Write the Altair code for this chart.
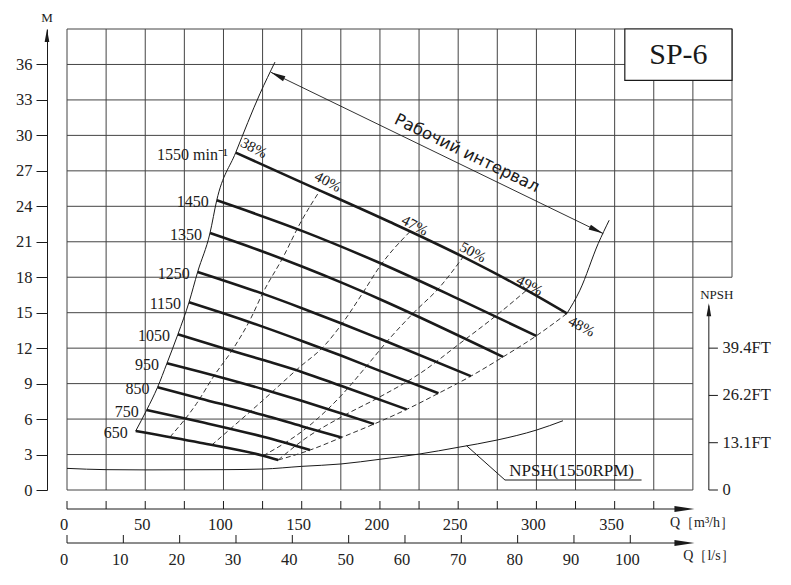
import altair as alt
import pandas as pd

# ---------------- data ----------------
speeds = [650, 750, 850, 950, 1050, 1150, 1250, 1350, 1450, 1550]
speed_text = ["650", "750", "850", "950", "1050", "1150", "1250", "1350", "1450", "1550 min⁻¹"]

q650 = [43.9, 85.0, 125.4, 135.0]
h650 = [4.99, 4.00, 2.90, 2.54]
q750 = [50.9, 85.0, 125.4, 155.3]
h750 = [6.76, 5.77, 4.50, 3.38]
q850 = [57.9, 85.0, 125.4, 150.4, 175.5]
h850 = [8.70, 7.75, 6.34, 5.38, 4.45]
q950 = [63.9, 85.0, 125.4, 150.4, 175.5, 196.2]
h950 = [10.73, 10.01, 8.53, 7.53, 6.47, 5.58]
q1050 = [70.9, 99.9, 125.4, 150.4, 175.5, 217.1]
h1050 = [13.18, 12.00, 10.99, 9.97, 8.79, 6.82]
q1150 = [78.0, 99.9, 125.4, 151.0, 175.5, 200.0, 237.4]
h1150 = [15.89, 14.95, 13.80, 12.57, 11.35, 10.08, 8.18]
q1250 = [83.5, 125.4, 151.0, 175.5, 200.0, 258.1]
h1250 = [18.45, 16.59, 15.34, 14.09, 12.79, 9.63]
q1350 = [91.4, 125.4, 151.0, 175.5, 200.0, 278.7]
h1350 = [21.74, 20.16, 18.86, 17.54, 16.14, 11.26]
q1450 = [95.7, 151.0, 200.0, 250.0, 299.9]
h1450 = [24.51, 21.88, 19.20, 16.17, 13.04]
q1550 = [107.8, 148.9, 206.4, 253.2, 293.7, 319.5]
h1550 = [28.54, 26.09, 22.67, 19.72, 16.90, 14.93]

# iso-efficiency (dashed) curves
e40_q = [65.8, 82.9, 93.5, 106.3, 116.9, 125.4, 138.2, 148.9, 161.7]
e40_h = [4.48, 7.33, 9.57, 11.97, 14.37, 16.73, 19.72, 22.54, 25.35]
e47_q = [92.5, 125.4, 148.9, 163.8, 176.5, 189.3, 200.0, 219.2]
e47_h = [3.80, 7.61, 10.42, 12.11, 14.20, 16.73, 18.93, 21.86]
e50_q = [125.4, 155.3, 176.5, 189.3, 206.4, 221.3, 238.3, 253.2]
e50_h = [2.90, 5.49, 8.17, 10.14, 12.85, 14.96, 17.18, 19.72]
e49_q = [135.0, 151.0, 175.5, 200.0, 225.6, 251.1, 274.6, 293.7]
e49_h = [2.54, 4.23, 6.19, 7.88, 9.86, 12.40, 14.79, 16.90]
e48_q = [135.0, 155.3, 175.5, 196.2, 217.1, 237.4, 258.1, 278.7, 299.9, 319.5]
e48_h = [2.54, 3.38, 4.45, 5.58, 6.82, 8.18, 9.63, 11.26, 13.04, 14.93]

eff_text = ["38%", "40%", "47%", "50%", "49%", "48%"]
eff_lab_q = [119.5, 166.8, 222.4, 259.4, 295.8, 328.9]
eff_lab_h = [28.95, 26.1, 22.39, 20.14, 17.32, 13.86]

# thin boundary lines of the working range
left_q = [43.9, 50.9, 57.9, 63.9, 70.9, 78.0, 83.5, 91.4, 95.7, 107.8, 123.3, 132.9]
left_h = [4.99, 6.76, 8.70, 10.73, 13.18, 15.89, 18.45, 21.74, 24.51, 28.54, 33.52, 36.2]
right_q = [319.5, 327.8, 339.5, 346.5]
right_h = [14.93, 16.90, 20.85, 22.82]

# NPSH curve
npsh_q = [0, 25, 50, 100, 125, 150, 175, 200, 225, 250, 275, 300, 317]
npsh_h = [1.83, 1.72, 1.70, 1.72, 1.77, 2.0, 2.2, 2.6, 3.04, 3.61, 4.23, 5.07, 5.86]
npsh_lead_q = [255.4, 279.9, 367.2]
npsh_lead_h = [3.74, 0.845, 0.845]

# dimension ("working interval") arrow end points
dim_q = [130.2, 342.7]
dim_h = [35.35, 21.69]

# axes
grid_q = [0, 25, 50, 75, 100, 125, 150, 175, 200, 225, 250, 275, 300, 325, 350, 375, 400]
grid_h = [0, 3, 6, 9, 12, 15, 18, 21, 24, 27, 30, 33, 36, 39]
m_ticks = [0, 3, 6, 9, 12, 15, 18, 21, 24, 27, 30, 33, 36]
q_ticks = [0, 25, 50, 75, 100, 125, 150, 175, 200, 225, 250, 275, 300, 325, 350, 375]
q_labels = [0, 50, 100, 150, 200, 250, 300, 350]
ls_ticks = [0, 10, 20, 30, 40, 50, 60, 70, 80, 90, 100]
npsh_ticks = [0, 4, 8, 12]
npsh_tick_text = ["0", "13.1FT", "26.2FT", "39.4FT"]

# ---------------- tables ----------------
all_q = [q650, q750, q850, q950, q1050, q1150, q1250, q1350, q1450, q1550]
all_h = [h650, h750, h850, h950, h1050, h1150, h1250, h1350, h1450, h1550]
head_df = pd.DataFrame([
    {"speed": s, "q": q, "h": h}
    for s, qs, hs in zip(speeds, all_q, all_h) for q, h in zip(qs, hs)
])
start_df = pd.DataFrame({"q": [qs[0] for qs in all_q], "h": [hs[0] for hs in all_h], "t": speed_text})

eff_df = pd.DataFrame([
    {"eff": name, "q": q, "h": h}
    for name, qs, hs in [("40", e40_q, e40_h), ("47", e47_q, e47_h), ("50", e50_q, e50_h),
                         ("49", e49_q, e49_h), ("48", e48_q, e48_h)]
    for q, h in zip(qs, hs)
])
efflab_df = pd.DataFrame({"q": eff_lab_q, "h": eff_lab_h, "t": eff_text})

bound_df = pd.DataFrame(
    [{"b": "left", "q": q, "h": h} for q, h in zip(left_q, left_h)]
    + [{"b": "right", "q": q, "h": h} for q, h in zip(right_q, right_h)]
)
npsh_df = pd.DataFrame({"q": npsh_q, "h": npsh_h})
lead_df = pd.DataFrame({"q": npsh_lead_q, "h": npsh_lead_h})

vgrid_df = pd.DataFrame([{"q": q, "h1": 0, "h2": 39} for q in grid_q] + [{"q": 425, "h1": 18, "h2": 39}])
hgrid_df = pd.DataFrame([{"h": h, "q1": 0, "q2": (425 if h >= 18 else 400)} for h in grid_h])

INK = "#1a1a1a"
SERIF = "Liberation Serif"
ARROW = "M0,0L-2,-0.36L-2,0.36Z"
ARROW_THIN = "M0,0L-2,-0.3L-2,0.3Z"

XS = alt.Scale(domain=[0, 425], nice=False, zero=False)
YS = alt.Scale(domain=[0, 39], nice=False, zero=False)
YAXIS = alt.Axis(
    values=m_ticks, offset=20, tickSize=11, tickWidth=1, tickColor=INK,
    domainColor=INK, domainWidth=1, labelFont=SERIF, labelFontSize=16.5,
    labelColor="#222", labelPadding=4, grid=False, title=None, labelOverlap=False)


def X(f):
    return alt.X(f, type="quantitative", scale=XS, axis=None)


def Y(f):
    # every layer carries the same left axis definition so the merged axis stays visible
    return alt.Y(f, type="quantitative", scale=YS, axis=YAXIS)


# grid
vgrid = alt.Chart(vgrid_df).mark_rule(color="#444", strokeWidth=1).encode(x=X("q"), y=Y("h1"), y2="h2")
hgrid = alt.Chart(hgrid_df).mark_rule(color="#444", strokeWidth=1).encode(y=Y("h"), x=X("q1"), x2="q2")

# SP-6 box
box_df = pd.DataFrame({"q1": [356.5], "q2": [425], "h1": [34.65], "h2": [39], "t": ["SP-6"]})
box = alt.Chart(box_df).mark_rect(fill="white", stroke=INK, strokeWidth=1.2).encode(
    x=X("q1"), x2="q2", y=Y("h1"), y2="h2")
box_text = alt.Chart(box_df).mark_text(font=SERIF, fontSize=30, color=INK, baseline="middle").encode(
    x=X("mq:Q"), y=Y("mh:Q"), text="t:N"
).transform_calculate(mq="(datum.q1 + datum.q2) / 2", mh="(datum.h1 + datum.h2) / 2")

# curves
heads = alt.Chart(head_df).mark_line(color=INK, strokeWidth=2.6, interpolate="monotone").encode(
    x=X("q"), y=Y("h"), detail="speed:N")
effs = alt.Chart(eff_df).mark_line(color="#333", strokeWidth=1, strokeDash=[5, 3], interpolate="monotone").encode(
    x=X("q"), y=Y("h"), detail="eff:N")
bounds = alt.Chart(bound_df).mark_line(color=INK, strokeWidth=1, interpolate="monotone").encode(
    x=X("q"), y=Y("h"), detail="b:N")
npsh = alt.Chart(npsh_df).mark_line(color=INK, strokeWidth=1, interpolate="monotone").encode(x=X("q"), y=Y("h"))
lead = alt.Chart(lead_df).mark_line(color=INK, strokeWidth=1).encode(x=X("q"), y=Y("h"))
npsh_lab = alt.Chart(pd.DataFrame({"q": [322.5], "h": [1.6], "t": ["NPSH(1550RPM)"]})).mark_text(
    font=SERIF, fontSize=17, color=INK, baseline="middle").encode(x=X("q"), y=Y("h"), text="t:N")

# dimension arrow
dim_df = pd.DataFrame({"q": [dim_q[0]], "h": [dim_h[0]], "q2": [dim_q[1]], "h2": [dim_h[1]]})
dim_line = alt.Chart(dim_df).mark_rule(color=INK, strokeWidth=0.9).encode(
    x=X("q"), y=Y("h"), x2="q2", y2="h2")
dim_heads = alt.Chart(pd.DataFrame({"q": dim_q, "h": dim_h, "a": [205.9, 25.9]})).mark_point(
    shape=ARROW, filled=True, color=INK, opacity=1, size=225).encode(
    x=X("q"), y=Y("h"), angle=alt.Angle("a:Q", scale=None))
dim_text = alt.Chart(pd.DataFrame({"q": [255.6], "h": [28.48], "t": ["Рабочий интервал"]})).mark_text(
    font="DejaVu Sans", fontSize=16.5, color=INK, angle=26, baseline="middle").encode(
    x=X("q"), y=Y("h"), text="t:N")

# labels
speed_lab = alt.Chart(start_df).mark_text(font=SERIF, fontSize=16, color=INK, align="right",
                                          baseline="middle", dx=-8, dy=2).encode(
    x=X("q"), y=Y("h"), text="t:N")
eff_lab = alt.Chart(efflab_df).mark_text(font=SERIF, fontSize=15, color=INK, angle=28,
                                         baseline="middle").encode(x=X("q"), y=Y("h"), text="t:N")

# left axis arrow and title
m_arrow = alt.Chart(pd.DataFrame({"h": [39]})).mark_point(
    shape=ARROW, filled=True, color=INK, opacity=1, size=169, angle=270).encode(
    x=alt.value(-20), y=Y("h"))
m_title = alt.Chart(pd.DataFrame({"t": ["M"]})).mark_text(font=SERIF, fontSize=13, color=INK).encode(
    x=alt.value(-20), y=alt.value(-11), text="t:N")

# NPSH axis
npsh_axis_df = pd.DataFrame({"q": [410.2], "h1": [0], "h2": [15.6]})
npsh_axis = alt.Chart(npsh_axis_df).mark_rule(color=INK, strokeWidth=1).encode(x=X("q"), y=Y("h1"), y2="h2")
npsh_arrow = alt.Chart(pd.DataFrame({"q": [410.2], "h": [15.8]})).mark_point(
    shape=ARROW, filled=True, color=INK, opacity=1, size=169, angle=270).encode(x=X("q"), y=Y("h"))
npsh_tk_df = pd.DataFrame({"h": npsh_ticks, "t": npsh_tick_text, "q1": 410.2, "q2": 416.0, "ql": 419.0})
npsh_tk = alt.Chart(npsh_tk_df).mark_rule(color=INK, strokeWidth=1).encode(x=X("q1"), x2="q2", y=Y("h"))
npsh_tk_lab = alt.Chart(npsh_tk_df).mark_text(font=SERIF, fontSize=16.5, color="#222", align="left",
                                              baseline="middle").encode(x=X("ql"), y=Y("h"), text="t:N")
npsh_title = alt.Chart(pd.DataFrame({"q": [415.3], "h": [16.48], "t": ["NPSH"]})).mark_text(
    font=SERIF, fontSize=13, color=INK, baseline="middle").encode(x=X("q"), y=Y("h"), text="t:N")

# bottom axes (drawn below the plot area, in pixels from the plot top)
AX1, AX2 = 480, 514
end_df = pd.DataFrame({"q1": [0], "q2": [396], "tip": [401]})
ax1_line = alt.Chart(end_df).mark_rule(color=INK, strokeWidth=1).encode(x=X("q1"), x2="q2", y=alt.value(AX1))
ax2_line = alt.Chart(end_df).mark_rule(color=INK, strokeWidth=1).encode(x=X("q1"), x2="q2", y=alt.value(AX2))
ax1_arrow = alt.Chart(end_df).mark_point(shape=ARROW_THIN, filled=True, color=INK, opacity=1, size=400).encode(
    x=X("tip"), y=alt.value(AX1))
ax2_arrow = alt.Chart(end_df).mark_point(shape=ARROW_THIN, filled=True, color=INK, opacity=1, size=400).encode(
    x=X("tip"), y=alt.value(AX2))
ax1_ticks = alt.Chart(pd.DataFrame({"q": q_ticks})).mark_rule(color=INK, strokeWidth=1).encode(
    x=X("q"), y=alt.value(AX1), y2=alt.value(AX1 - 8))
ax1_labels = alt.Chart(pd.DataFrame({"q": q_labels})).mark_text(
    font=SERIF, fontSize=16.5, color="#222", baseline="middle", dx=-3).encode(
    x=X("q"), y=alt.value(AX1 + 16), text=alt.Text("q:Q", format="d"))
ls_df = pd.DataFrame({"ls": ls_ticks})
ax2_ticks = alt.Chart(ls_df).transform_calculate(q="datum.ls * 3.6").mark_rule(color=INK, strokeWidth=1).encode(
    x=X("q:Q"), y=alt.value(AX2), y2=alt.value(AX2 - 8))
ax2_labels = alt.Chart(ls_df).transform_calculate(q="datum.ls * 3.6").mark_text(
    font=SERIF, fontSize=16.5, color="#222", baseline="middle", dx=-3).encode(
    x=X("q:Q"), y=alt.value(AX2 + 17), text=alt.Text("ls:Q", format="d"))
ax1_title = alt.Chart(pd.DataFrame({"q": [405.8], "t": ["Q［m³/h］"]})).mark_text(
    font=SERIF, fontSize=14, color="#222", baseline="middle").encode(
    x=X("q"), y=alt.value(AX1 + 14), text="t:N")
ax2_title = alt.Chart(pd.DataFrame({"q": [410.3], "t": ["Q［l/s］"]})).mark_text(
    font=SERIF, fontSize=14, color="#222", baseline="middle").encode(
    x=X("q"), y=alt.value(AX2 + 13), text="t:N")

chart = alt.layer(
    hgrid, vgrid, box, box_text,
    npsh, lead, npsh_lab,
    bounds, effs, heads,
    dim_line, dim_heads, dim_text,
    speed_lab, eff_lab,
    m_arrow, m_title,
    npsh_axis, npsh_arrow, npsh_tk, npsh_tk_lab, npsh_title,
    ax1_line, ax2_line, ax1_arrow, ax2_arrow, ax1_ticks, ax1_labels, ax2_ticks, ax2_labels,
    ax1_title, ax2_title,
).properties(
    width=665, height=461,
    padding={"left": 59, "top": 21, "right": 50, "bottom": 85},
    autosize=alt.AutoSizeParams(type="none"),
    background="white",
).configure_view(stroke=None)

chart.save("out.html", embed_options={"renderer": "svg", "actions": False})
